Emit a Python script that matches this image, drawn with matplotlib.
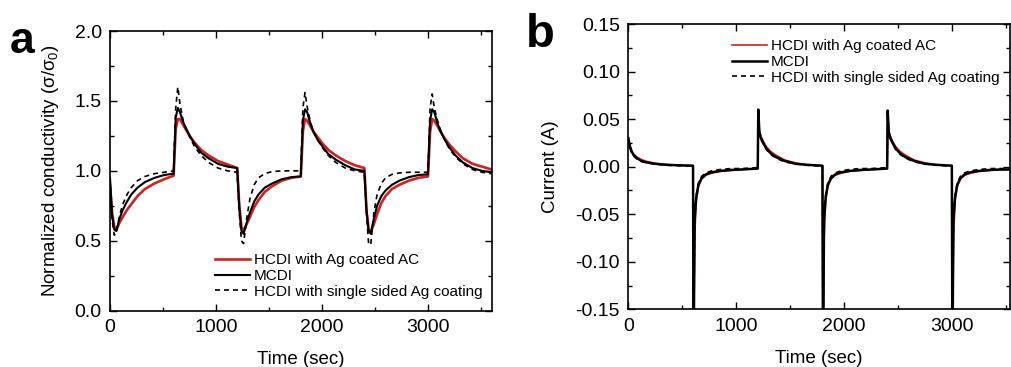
import matplotlib
matplotlib.use("Agg")
import matplotlib.pyplot as plt
from matplotlib.ticker import MultipleLocator, FormatStrFormatter

plt.rcParams['font.family'] = ['Liberation Sans', 'DejaVu Sans']
plt.rcParams['mathtext.fontset'] = 'custom'
plt.rcParams['mathtext.rm'] = 'Liberation Sans'
plt.rcParams['mathtext.it'] = 'Liberation Sans:italic'
plt.rcParams['axes.unicode_minus'] = False

labels = ["HCDI with Ag coated AC", "MCDI", "HCDI with single sided Ag coating"]

# panel a: normalized conductivity vs time
time_a = [0, 20, 40, 60, 90, 120, 160, 200, 260, 330, 420, 510,
          600, 620, 640, 660, 690, 720, 760, 800, 860, 930, 1020, 1110,
          1200, 1220, 1240, 1260, 1290, 1320, 1360, 1400, 1460, 1530, 1620, 1710,
          1800, 1820, 1840, 1860, 1890, 1920, 1960, 2000, 2060, 2130, 2220, 2310,
          2400, 2420, 2440, 2460, 2490, 2520, 2560, 2600, 2660, 2730, 2820, 2910,
          3000, 3020, 3040, 3060, 3090, 3120, 3160, 3200, 3260, 3330, 3420, 3510,
          3600]

cond_ag = [0.90, 0.70, 0.60, 0.58, 0.63, 0.67, 0.72, 0.76, 0.82, 0.87, 0.91, 0.94,
           0.965, 1.30, 1.37, 1.37, 1.33, 1.29, 1.24, 1.20, 1.15, 1.11, 1.07, 1.045,
           1.02, 0.75, 0.60, 0.57, 0.62, 0.67, 0.74, 0.79, 0.85, 0.89, 0.93, 0.95,
           0.96, 1.28, 1.37, 1.36, 1.32, 1.28, 1.24, 1.20, 1.15, 1.11, 1.07, 1.04,
           1.02, 0.72, 0.58, 0.56, 0.62, 0.69, 0.77, 0.82, 0.87, 0.90, 0.93, 0.95,
           0.96, 1.28, 1.37, 1.36, 1.32, 1.28, 1.23, 1.19, 1.14, 1.09, 1.05, 1.03,
           1.01]

cond_mcdi = [0.95, 0.68, 0.58, 0.57, 0.66, 0.72, 0.78, 0.83, 0.88, 0.92, 0.95, 0.97,
             0.98, 1.38, 1.45, 1.42, 1.35, 1.30, 1.24, 1.19, 1.13, 1.09, 1.05, 1.03,
             1.02, 0.74, 0.57, 0.55, 0.63, 0.70, 0.78, 0.83, 0.88, 0.91, 0.94, 0.955,
             0.96, 1.36, 1.44, 1.42, 1.34, 1.28, 1.22, 1.18, 1.12, 1.08, 1.04, 1.01,
             1.00, 0.72, 0.57, 0.55, 0.66, 0.75, 0.82, 0.86, 0.90, 0.93, 0.955, 0.97,
             0.975, 1.36, 1.44, 1.42, 1.34, 1.28, 1.22, 1.17, 1.11, 1.06, 1.02, 1.00,
             0.99]

cond_single = [0.95, 0.65, 0.54, 0.56, 0.68, 0.76, 0.83, 0.88, 0.93, 0.96, 0.98, 0.99,
               1.00, 1.45, 1.60, 1.48, 1.36, 1.30, 1.23, 1.17, 1.11, 1.06, 1.02, 1.00,
               0.99, 0.70, 0.50, 0.48, 0.66, 0.80, 0.90, 0.95, 0.98, 0.995, 1.00, 1.00,
               1.00, 1.45, 1.56, 1.46, 1.35, 1.28, 1.22, 1.17, 1.11, 1.06, 1.02, 1.00,
               0.99, 0.70, 0.48, 0.47, 0.70, 0.83, 0.91, 0.95, 0.975, 0.985, 0.99, 0.99,
               0.99, 1.45, 1.55, 1.45, 1.36, 1.29, 1.22, 1.16, 1.10, 1.05, 1.01, 0.99,
               0.98]

# panel b: current vs time
time_b = [0, 5, 15, 30, 50, 80, 120, 170, 250, 350, 450,
          600, 605, 615, 630, 650, 680, 720, 770, 850, 950, 1050,
          1200, 1205, 1215, 1230, 1250, 1280, 1320, 1370, 1450, 1550, 1650,
          1800, 1805, 1815, 1830, 1850, 1880, 1920, 1970, 2050, 2150, 2250,
          2400, 2405, 2415, 2430, 2450, 2480, 2520, 2570, 2650, 2750, 2850,
          3000, 3005, 3015, 3030, 3050, 3080, 3120, 3170, 3250, 3350, 3450,
          3600]

cur_ag = [0.030, 0.027, 0.022, 0.017, 0.013, 0.010, 0.0075, 0.0055, 0.0035, 0.0022, 0.0015,
          0.001, -0.20, -0.075, -0.036, -0.021, -0.013, -0.009, -0.007, -0.005, -0.004, -0.003,
          -0.002, 0.058, 0.038, 0.032, 0.027, 0.021, 0.016, 0.012, 0.007, 0.004, 0.002,
          0.001, -0.20, -0.075, -0.036, -0.021, -0.013, -0.009, -0.007, -0.005, -0.004, -0.003,
          -0.002, 0.057, 0.038, 0.032, 0.027, 0.021, 0.016, 0.012, 0.007, 0.004, 0.002,
          0.001, -0.20, -0.075, -0.036, -0.021, -0.013, -0.009, -0.007, -0.005, -0.004, -0.003,
          -0.003]

cur_mcdi = [0.030, 0.027, 0.021, 0.016, 0.012, 0.009, 0.006, 0.0045, 0.003, 0.002, 0.0015,
            0.001, -0.20, -0.055, -0.032, -0.019, -0.012, -0.008, -0.006, -0.0045, -0.0035, -0.003,
            -0.002, 0.060, 0.036, 0.030, 0.025, 0.019, 0.014, 0.010, 0.006, 0.003, 0.002,
            0.001, -0.20, -0.055, -0.032, -0.019, -0.012, -0.008, -0.006, -0.0045, -0.0035, -0.003,
            -0.002, 0.059, 0.036, 0.030, 0.025, 0.019, 0.014, 0.010, 0.006, 0.003, 0.002,
            0.001, -0.20, -0.055, -0.032, -0.019, -0.012, -0.008, -0.006, -0.0045, -0.0035, -0.003,
            -0.003]

cur_single = [0.029, 0.026, 0.020, 0.015, 0.011, 0.008, 0.0055, 0.004, 0.0025, 0.0015, 0.001,
              0.0005, -0.20, -0.052, -0.030, -0.017, -0.010, -0.0065, -0.0045, -0.003, -0.002, -0.002,
              -0.001, 0.058, 0.035, 0.029, 0.024, 0.018, 0.013, 0.009, 0.005, 0.003, 0.0015,
              0.0005, -0.20, -0.052, -0.030, -0.017, -0.010, -0.0065, -0.0045, -0.003, -0.002, -0.002,
              -0.001, 0.058, 0.035, 0.029, 0.024, 0.018, 0.013, 0.009, 0.005, 0.003, 0.0015,
              0.0005, -0.20, -0.052, -0.030, -0.017, -0.010, -0.0065, -0.0045, -0.003, -0.002, -0.002,
              -0.002]


def style_axes(ax):
    ax.tick_params(which='both', direction='in', top=True, right=True,
                   labelsize=14, width=1, pad=6)
    ax.tick_params(which='major', length=5)
    ax.tick_params(which='minor', length=3)
    for sp in ax.spines.values():
        sp.set_linewidth(1.2)


fig = plt.figure(figsize=(10.11, 3.67), dpi=100)

# (a)
ax = fig.add_axes([0.1088, 0.1534, 0.3774, 0.7621])
ax.plot(time_a, cond_ag, color='#d62020', lw=1.9, label=labels[0])
ax.plot(time_a, cond_mcdi, color='black', lw=1.5, label=labels[1])
ax.plot(time_a, cond_single, color='black', lw=1.2, ls=(0, (3, 2.4)), label=labels[2])
ax.set_xlim(0, 3600)
ax.set_ylim(0, 2.0)
ax.xaxis.set_major_locator(MultipleLocator(1000))
ax.xaxis.set_minor_locator(MultipleLocator(500))
ax.yaxis.set_major_locator(MultipleLocator(0.5))
ax.yaxis.set_minor_locator(MultipleLocator(0.25))
ax.yaxis.set_major_formatter(FormatStrFormatter('%.1f'))
style_axes(ax)
ax.set_xlabel("Time (sec)", fontsize=13.5, labelpad=11)
ax.set_ylabel("Normalized conductivity (σ/σ$_0$)", fontsize=13.5, labelpad=10)
ax.legend(loc='center left', bbox_to_anchor=(215 / 1011, 1 - 276 / 367),
          bbox_transform=fig.transFigure, frameon=False, fontsize=11,
          handlelength=2.3, handletextpad=0.25, labelspacing=0.1,
          borderpad=0, borderaxespad=0)

# (b)
bx = fig.add_axes([0.6215, 0.1572, 0.3776, 0.7774])
bx.plot(time_b, cur_ag, color='#d62020', lw=1.2, label=labels[0])
bx.plot(time_b, cur_mcdi, color='black', lw=1.8, label=labels[1])
bx.plot(time_b, cur_single, color='black', lw=1.2, ls=(0, (3, 2.4)), label=labels[2])
bx.set_xlim(0, 3540)
bx.set_ylim(-0.15, 0.15)
bx.xaxis.set_major_locator(MultipleLocator(1000))
bx.xaxis.set_minor_locator(MultipleLocator(500))
bx.yaxis.set_major_locator(MultipleLocator(0.05))
bx.yaxis.set_minor_locator(MultipleLocator(0.025))
bx.yaxis.set_major_formatter(FormatStrFormatter('%.2f'))
style_axes(bx)
bx.set_xlabel("Time (sec)", fontsize=13.5, labelpad=11)
bx.set_ylabel("Current (A)", fontsize=13.5, labelpad=12)
bx.legend(loc='center left', bbox_to_anchor=(732 / 1011, 1 - 62 / 367),
          bbox_transform=fig.transFigure, frameon=False, fontsize=11,
          handlelength=2.3, handletextpad=0.25, labelspacing=0.1,
          borderpad=0, borderaxespad=0)

# panel letters
fig.text(10 / 1011, 1 - 53 / 367, "a", fontsize=32, fontweight='bold', ha='left', va='baseline')
fig.text(526 / 1011, 1 - 47 / 367, "b", fontsize=34, fontweight='bold', ha='left', va='baseline')

fig.savefig("out.png", dpi=100)
